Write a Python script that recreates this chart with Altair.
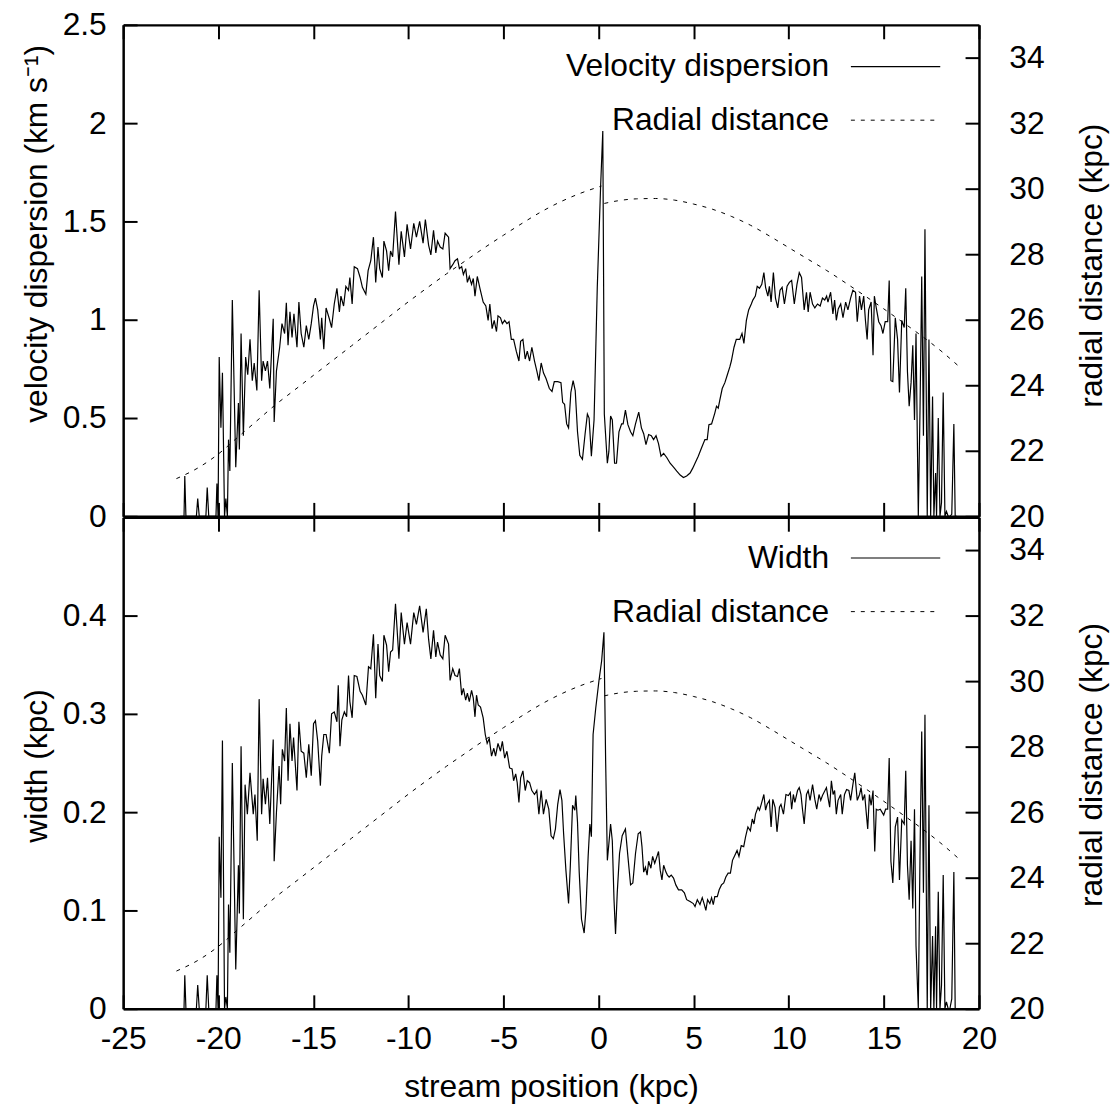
import altair as alt
import pandas as pd

# ---------------- data ----------------
vel_x = [-22.00, -21.80, -21.76, -21.70, -21.15, -21.08, -21.00, -20.65, -20.58, -20.50,
         -20.12, -20.07, -20.01, -19.95, -19.86, -19.78, -19.67, -19.60, -19.52, -19.46,
         -19.39, -19.26, -19.08, -18.94, -18.89, -18.80, -18.68, -18.56, -18.45, -18.33,
         -18.21, -18.11, -17.97, -17.85, -17.72, -17.64, -17.52, -17.41, -17.29, -17.11,
         -17.06, -16.94, -16.77, -16.65, -16.51, -16.42, -16.33, -16.23, -16.12, -16.02,
         -15.86, -15.76, -15.64, -15.50, -15.37, -15.24, -15.11, -14.99, -14.89, -14.77,
         -14.63, -14.56, -14.45, -14.33, -14.16, -14.04, -13.90, -13.76, -13.63, -13.55,
         -13.41, -13.29, -13.15, -13.08, -12.96, -12.85, -12.68, -12.54, -12.42, -12.24,
         -12.12, -11.98, -11.84, -11.72, -11.60, -11.51, -11.37, -11.29, -11.15, -11.04,
         -10.94, -10.83, -10.68, -10.50, -10.38, -10.21, -10.07, -9.89, -9.72, -9.58,
         -9.41, -9.23, -9.11, -8.94, -8.82, -8.68, -8.56, -8.47, -8.33, -8.19,
         -8.07, -7.89, -7.81, -7.67, -7.55, -7.42, -7.32, -7.20, -7.11, -6.99,
         -6.90, -6.80, -6.68, -6.59, -6.50, -6.38, -6.24, -6.07, -5.93, -5.81,
         -5.72, -5.60, -5.49, -5.37, -5.29, -5.16, -5.06, -4.94, -4.82, -4.71,
         -4.59, -4.47, -4.33, -4.19, -4.10, -3.98, -3.86, -3.75, -3.63, -3.51,
         -3.37, -3.25, -3.14, -3.02, -2.90, -2.76, -2.59, -2.45, -2.33, -2.15,
         -1.98, -1.89, -1.79, -1.68, -1.58, -1.46, -1.34, -1.23, -1.11, -0.99,
         -0.85, -0.71, -0.59, -0.50, -0.38, -0.24, -0.07, 0.11, 0.22, 0.30,
         0.46, 0.54, 0.63, 0.72, 0.84, 0.94, 1.07, 1.21, 1.29, 1.41,
         1.54, 1.68, 1.80, 1.94, 2.11, 2.25, 2.37, 2.49, 2.63, 2.77,
         2.89, 3.02, 3.15, 3.28, 3.42, 3.59, 3.76, 3.94, 4.11, 4.29,
         4.46, 4.63, 4.81, 4.95, 5.07, 5.24, 5.42, 5.59, 5.71, 5.80,
         5.94, 6.11, 6.20, 6.29, 6.37, 6.50, 6.64, 6.77, 6.90, 6.98,
         7.12, 7.24, 7.42, 7.54, 7.64, 7.77, 7.89, 8.03, 8.11, 8.24,
         8.34, 8.46, 8.58, 8.69, 8.78, 8.90, 8.98, 9.07, 9.19, 9.30,
         9.42, 9.54, 9.65, 9.77, 9.91, 10.03, 10.15, 10.29, 10.43, 10.55,
         10.67, 10.81, 10.93, 11.02, 11.12, 11.25, 11.37, 11.51, 11.65, 11.77,
         11.89, 11.99, 12.06, 12.20, 12.32, 12.41, 12.50, 12.60, 12.73, 12.85,
         12.99, 13.11, 13.25, 13.37, 13.51, 13.60, 13.72, 13.82, 13.94, 14.03,
         14.12, 14.20, 14.33, 14.43, 14.50, 14.60, 14.73, 14.85, 14.95, 15.07,
         15.20, 15.28, 15.37, 15.47, 15.60, 15.72, 15.82, 15.94, 16.07, 16.15,
         16.24, 16.33, 16.43, 16.52, 16.61, 16.69, 16.81, 16.90, 16.99, 17.08,
         17.16, 17.28, 17.37, 17.46, 17.56, 17.63, 17.72, 17.77, 17.86, 17.95,
         18.03, 18.12, 18.21, 18.29, 18.38, 18.47, 18.57, 18.68, 18.75, 18.85]
vel_v = [0, 0, 0.205, 0, 0, 0.09, 0, 0, 0.146, 0,
         0, 0.167, 0, 0.81, 0.45, 0.73, 0, 0.09, 0, 0.39,
         0.23, 1.10, 0.25, 0.576, 0.34, 0.93, 0.41, 0.81, 0.72, 0.90,
         0.69, 0.78, 0.64, 1.15, 0.69, 0.79, 0.74, 0.79, 0.65, 1.005,
         0.48, 0.74, 0.86, 0.98, 0.93, 1.086, 0.87, 1.04, 0.91, 1.03,
         0.86, 1.09, 0.93, 0.86, 0.97, 0.90, 0.98, 1.07, 1.11, 1.05,
         0.90, 1.01, 0.85, 1.06, 1.005, 0.96, 1.08, 1.16, 1.04, 1.12,
         1.07, 1.17, 1.15, 1.215, 1.08, 1.27, 1.26, 1.215, 1.165, 1.13,
         1.25, 1.30, 1.42, 1.19, 1.37, 1.26, 1.215, 1.40, 1.35, 1.25,
         1.35, 1.32, 1.55, 1.28, 1.45, 1.32, 1.485, 1.36, 1.49, 1.42,
         1.50, 1.39, 1.51, 1.38, 1.33, 1.455, 1.34, 1.40, 1.37, 1.36,
         1.44, 1.42, 1.26, 1.28, 1.30, 1.31, 1.26, 1.27, 1.23, 1.26,
         1.19, 1.22, 1.18, 1.21, 1.12, 1.22, 1.16, 1.09, 1.07, 0.997,
         1.08, 0.955, 0.997, 0.94, 1.02, 1.01, 0.98, 0.997, 0.98, 0.99,
         0.90, 0.90, 0.84, 0.79, 0.89, 0.90, 0.80, 0.84, 0.79, 0.86,
         0.79, 0.74, 0.69, 0.78, 0.73, 0.70, 0.65, 0.635, 0.685, 0.685,
         0.68, 0.58, 0.57, 0.47, 0.45, 0.63, 0.69, 0.64, 0.43, 0.31,
         0.29, 0.42, 0.52, 0.50, 0.306, 0.49, 1.165, 1.69, 1.96, 0.52,
         0.27, 0.33, 0.51, 0.49, 0.27, 0.27, 0.43, 0.47, 0.47, 0.54,
         0.466, 0.43, 0.41, 0.47, 0.53, 0.45, 0.42, 0.365, 0.416, 0.41,
         0.39, 0.41, 0.37, 0.306, 0.32, 0.298, 0.27, 0.25, 0.23, 0.21,
         0.197, 0.205, 0.22, 0.245, 0.27, 0.306, 0.35, 0.39, 0.39, 0.466,
         0.47, 0.525, 0.56, 0.55, 0.59, 0.65, 0.68, 0.72, 0.76, 0.79,
         0.86, 0.90, 0.90, 0.93, 0.88, 0.997, 1.05, 1.08, 1.10, 1.12,
         1.17, 1.16, 1.18, 1.24, 1.165, 1.12, 1.17, 1.09, 1.24, 1.11,
         1.06, 1.15, 1.165, 1.08, 1.17, 1.19, 1.20, 1.08, 1.18, 1.24,
         1.215, 1.05, 1.14, 1.04, 1.14, 1.08, 1.06, 1.08, 1.07, 1.11,
         1.10, 1.12, 1.09, 1.14, 1.03, 1.10, 0.997, 1.055, 1.08, 1.01,
         1.09, 1.05, 1.11, 1.15, 1.14, 0.99, 1.12, 1.05, 1.12, 0.997,
         0.90, 1.05, 1.09, 0.82, 1.12, 1.06, 0.99, 0.97, 0.93, 0.99,
         0.99, 1.20, 0.69, 0.685, 1.01, 0.90, 0.63, 0.997, 0.96, 1.16,
         0.735, 0.56, 0.68, 0.87, 0.49, 0.93, 0.0, 0.54, 1.22, 0.41,
         1.46, 0.0, 0.90, 0.0, 0.61, 0.0, 0.22, 0.0, 0.50, 0.0,
         0.07, 0.63, 0.0, 0.025, 0.0, 0.0, 0.01, 0.47, 0.0, 0.0]

wid_x = [-22.00, -21.80, -21.76, -21.70, -21.15, -21.08, -21.00, -20.65, -20.58, -20.50,
         -20.12, -20.07, -20.01, -19.95, -19.86, -19.78, -19.67, -19.60, -19.52, -19.46,
         -19.39, -19.26, -19.08, -18.94, -18.89, -18.80, -18.68, -18.59, -18.47, -18.33,
         -18.16, -18.07, -17.95, -17.85, -17.72, -17.64, -17.52, -17.41, -17.29, -17.11,
         -17.06, -16.94, -16.80, -16.72, -16.63, -16.51, -16.42, -16.33, -16.23, -16.12,
         -16.04, -15.86, -15.76, -15.64, -15.50, -15.37, -15.24, -15.11, -14.99, -14.89,
         -14.77, -14.63, -14.56, -14.45, -14.33, -14.16, -14.04, -13.90, -13.76, -13.69,
         -13.60, -13.50, -13.37, -13.25, -13.15, -13.08, -12.96, -12.85, -12.71, -12.54,
         -12.42, -12.24, -12.10, -11.98, -11.84, -11.72, -11.60, -11.51, -11.37, -11.29,
         -11.15, -11.04, -10.94, -10.83, -10.68, -10.50, -10.38, -10.21, -10.07, -9.89,
         -9.72, -9.58, -9.41, -9.23, -9.06, -8.94, -8.82, -8.68, -8.56, -8.47,
         -8.33, -8.19, -8.07, -7.89, -7.81, -7.67, -7.55, -7.42, -7.32, -7.20,
         -7.11, -6.99, -6.90, -6.80, -6.68, -6.59, -6.50, -6.42, -6.33, -6.21,
         -6.07, -5.96, -5.86, -5.75, -5.63, -5.51, -5.42, -5.29, -5.16, -5.06,
         -4.94, -4.82, -4.68, -4.55, -4.47, -4.36, -4.28, -4.19, -4.10, -3.98,
         -3.86, -3.75, -3.63, -3.51, -3.37, -3.25, -3.14, -3.02, -2.90, -2.76,
         -2.62, -2.50, -2.38, -2.27, -2.15, -2.03, -1.93, -1.84, -1.72, -1.58,
         -1.49, -1.37, -1.25, -1.20, -1.11, -1.02, -0.90, -0.76, -0.67, -0.55,
         -0.46, -0.38, -0.29, -0.15, 0.02, 0.16, 0.28, 0.37, 0.46, 0.54,
         0.63, 0.72, 0.81, 0.89, 0.98, 1.10, 1.24, 1.41, 1.54, 1.68,
         1.80, 1.94, 2.08, 2.20, 2.28, 2.37, 2.46, 2.55, 2.63, 2.75,
         2.84, 2.95, 3.07, 3.15, 3.24, 3.33, 3.42, 3.54, 3.62, 3.71,
         3.82, 3.94, 4.06, 4.20, 4.37, 4.51, 4.63, 4.81, 4.98, 5.07,
         5.19, 5.33, 5.45, 5.56, 5.64, 5.73, 5.85, 5.94, 6.03, 6.11,
         6.24, 6.34, 6.46, 6.58, 6.69, 6.81, 6.93, 7.04, 7.16, 7.28,
         7.38, 7.50, 7.63, 7.73, 7.85, 7.98, 8.08, 8.17, 8.25, 8.38,
         8.46, 8.55, 8.69, 8.78, 8.86, 8.98, 9.07, 9.16, 9.28, 9.38,
         9.51, 9.59, 9.72, 9.85, 9.98, 10.08, 10.15, 10.24, 10.32, 10.46,
         10.55, 10.64, 10.72, 10.81, 10.93, 11.02, 11.12, 11.25, 11.37, 11.47,
         11.59, 11.68, 11.77, 11.85, 11.98, 12.06, 12.15, 12.24, 12.33, 12.41,
         12.50, 12.59, 12.73, 12.81, 12.93, 13.04, 13.16, 13.25, 13.37, 13.47,
         13.60, 13.72, 13.80, 13.89, 13.99, 14.08, 14.15, 14.24, 14.33, 14.43,
         14.52, 14.60, 14.69, 14.81, 14.90, 14.99, 15.09, 15.20, 15.28, 15.37,
         15.47, 15.60, 15.72, 15.82, 15.94, 16.07, 16.15, 16.24, 16.33, 16.43,
         16.52, 16.61, 16.69, 16.81, 16.90, 16.99, 17.08, 17.16, 17.28, 17.37,
         17.46, 17.56, 17.63, 17.72, 17.77, 17.86, 17.95, 18.03, 18.12, 18.21,
         18.29, 18.38, 18.47, 18.57, 18.68, 18.75, 18.85]
wid_w = [0, 0, 0.034, 0, 0, 0.024, 0, 0, 0.034, 0,
         0, 0.034, 0, 0.175, 0.113, 0.273, 0, 0.012, 0, 0.106,
         0.057, 0.25, 0.04, 0.146, 0.097, 0.267, 0.091, 0.228, 0.198, 0.24,
         0.198, 0.218, 0.171, 0.315, 0.198, 0.234, 0.208, 0.235, 0.188, 0.274,
         0.15, 0.20, 0.247, 0.208, 0.264, 0.252, 0.306, 0.232, 0.29, 0.252,
         0.276, 0.222, 0.292, 0.262, 0.26, 0.235, 0.269, 0.237, 0.29, 0.293,
         0.272, 0.227, 0.257, 0.279, 0.279, 0.26, 0.30, 0.302, 0.292, 0.329,
         0.267, 0.294, 0.302, 0.297, 0.339, 0.3125, 0.296, 0.339, 0.338, 0.323,
         0.319, 0.309, 0.348, 0.346, 0.381, 0.316, 0.371, 0.339, 0.333, 0.380,
         0.37, 0.343, 0.363, 0.365, 0.412, 0.356, 0.403, 0.371, 0.393, 0.371,
         0.403, 0.391, 0.41, 0.383, 0.407, 0.376, 0.356, 0.385, 0.358, 0.373,
         0.36, 0.356, 0.38, 0.371, 0.334, 0.346, 0.339, 0.338, 0.346, 0.319,
         0.326, 0.314, 0.321, 0.3125, 0.324, 0.316, 0.297, 0.319, 0.309, 0.307,
         0.296, 0.279, 0.27, 0.275, 0.257, 0.265, 0.257, 0.27, 0.262, 0.272,
         0.255, 0.262, 0.245, 0.244, 0.232, 0.239, 0.23, 0.21, 0.235, 0.242,
         0.222, 0.232, 0.23, 0.222, 0.218, 0.222, 0.198, 0.222, 0.198, 0.213,
         0.203, 0.176, 0.173, 0.183, 0.208, 0.223, 0.212, 0.178, 0.141, 0.107,
         0.144, 0.207, 0.202, 0.217, 0.19, 0.139, 0.091, 0.077, 0.10, 0.155,
         0.188, 0.175, 0.279, 0.306, 0.334, 0.354, 0.383, 0.252, 0.151, 0.168,
         0.188, 0.171, 0.111, 0.076, 0.118, 0.158, 0.176, 0.183, 0.155, 0.126,
         0.128, 0.158, 0.178, 0.18, 0.165, 0.139, 0.144, 0.136, 0.15, 0.143,
         0.155, 0.148, 0.155, 0.16, 0.141, 0.131, 0.146, 0.139, 0.136, 0.134,
         0.136, 0.133, 0.126, 0.121, 0.121, 0.118, 0.111, 0.109, 0.107, 0.104,
         0.111, 0.106, 0.113, 0.106, 0.10, 0.111, 0.107, 0.113, 0.106, 0.114,
         0.114, 0.121, 0.126, 0.128, 0.134, 0.138, 0.138, 0.151, 0.156, 0.161,
         0.155, 0.166, 0.165, 0.175, 0.185, 0.181, 0.193, 0.188, 0.198, 0.205,
         0.202, 0.208, 0.218, 0.202, 0.208, 0.212, 0.185, 0.213, 0.205, 0.18,
         0.205, 0.208, 0.198, 0.218, 0.217, 0.22, 0.203, 0.218, 0.21, 0.222,
         0.225, 0.218, 0.203, 0.188, 0.218, 0.222, 0.212, 0.228, 0.213, 0.203,
         0.218, 0.212, 0.217, 0.22, 0.225, 0.215, 0.205, 0.232, 0.218, 0.222,
         0.198, 0.212, 0.218, 0.198, 0.218, 0.223, 0.222, 0.212, 0.228, 0.24,
         0.212, 0.218, 0.225, 0.212, 0.218, 0.198, 0.183, 0.218, 0.207, 0.222,
         0.16, 0.203, 0.202, 0.203, 0.20, 0.197, 0.203, 0.203, 0.255, 0.15,
         0.128, 0.185, 0.195, 0.131, 0.192, 0.188, 0.242, 0.146, 0.111, 0.171,
         0.102, 0.203, 0.064, 0.0, 0.156, 0.282, 0.118, 0.299, 0.0, 0.207,
         0.0, 0.074, 0.0, 0.084, 0.0, 0.119, 0.0, 0.024, 0.136, 0.0,
         0.007, 0.0, 0.0, 0.01, 0.139, 0.0, 0.0]

rad_left_x = [-22.2, -21.0, -20.0, -19.0, -18.0, -17.0, -16.0, -15.0, -14.0, -13.0, -12.0,
              -11.0, -10.0, -9.0, -8.0, -7.0, -6.0, -5.0, -4.0, -3.0, -2.0, -1.0, 0.15]
rad_left_r = [21.15, 21.5, 21.9, 22.4, 22.9, 23.4, 23.85, 24.3, 24.75, 25.2, 25.65,
              26.1, 26.55, 26.98, 27.4, 27.8, 28.2, 28.58, 28.95, 29.3, 29.6, 29.85, 30.08]
rad_right_x = [0.3, 1.0, 2.0, 3.0, 4.0, 5.0, 6.0, 7.0, 8.0, 9.0, 10.0,
               11.0, 12.0, 13.0, 14.0, 15.0, 16.0, 17.0, 18.0, 18.9]
rad_right_r = [29.55, 29.63, 29.69, 29.7, 29.65, 29.53, 29.37, 29.15, 28.88, 28.55, 28.2,
               27.85, 27.5, 27.12, 26.73, 26.33, 25.92, 25.5, 25.05, 24.6]

x_ticks = [-25, -20, -15, -10, -5, 0, 5, 10, 15, 20]
vel_ticks = [0, 0.5, 1, 1.5, 2, 2.5]
wid_ticks = [0, 0.1, 0.2, 0.3, 0.4]
rad_ticks = [20, 22, 24, 26, 28, 30, 32, 34]

top_legend = ["Velocity dispersion", "Radial distance"]
bot_legend = ["Width", "Radial distance"]

# ---------------- layout / style ----------------
FONT = "Liberation Sans"
FS = 32
W = 862
H = 991
TOP_BOTTOM = 495   # pixel y of the top panel's lower edge
BOT_TOP = 496      # pixel y of the bottom panel's upper edge

vel_df = pd.DataFrame({"x": vel_x, "v": vel_v})
wid_df = pd.DataFrame({"x": wid_x, "w": wid_w})
rad_df = pd.DataFrame({
    "x": rad_left_x + rad_right_x,
    "r": rad_left_r + rad_right_r,
    "seg": ["a"] * len(rad_left_x) + ["b"] * len(rad_right_x),
})

xscale = alt.Scale(domain=[-25, 20], nice=False, zero=False)

common = dict(
    tickSize={"expr": "-14"}, tickWidth=2, tickColor="black",
    domain=True, domainColor="black", domainWidth=2.5, grid=False,
    labelFont=FONT, labelFontSize=FS, labelColor="black",
    labelExpr="'' + datum.value", labelFlush=False, labelOverlap=False,
)

def xaxis(orient, offset, labels=False, title=None, **kw):
    args = dict(common)
    args.update(kw)
    if title is None:
        return alt.Axis(orient=orient, offset=offset, values=x_ticks, labels=labels,
                        title=None, **args)
    return alt.Axis(orient=orient, offset=offset, values=x_ticks, labels=labels,
                    title=title, **args)

top_v = alt.Chart(vel_df).mark_line(color="black", strokeWidth=1.2).encode(
    x=alt.X("x:Q", scale=xscale, axis=xaxis("top", 0)),
    y=alt.Y("v:Q",
            scale=alt.Scale(domain=[0, 2.5], range=[TOP_BOTTOM, 0], nice=False, zero=False),
            axis=alt.Axis(orient="left", values=vel_ticks, labelPadding=31,
                          title="velocity dispersion (km s\u207b\u00b9)",
                          titleX=-87, titleY=210, titleAngle=270,
                          titleAlign="center", titleBaseline="middle", **common)),
)

top_r = alt.Chart(rad_df).mark_line(color="black", strokeWidth=1, strokeDash=[4, 6],
                                     interpolate="monotone").encode(
    x=alt.X("x:Q", scale=xscale, axis=xaxis("bottom", -(H - TOP_BOTTOM))),
    y=alt.Y("r:Q",
            scale=alt.Scale(domain=[20, 35], range=[TOP_BOTTOM, 0], nice=False, zero=False),
            axis=alt.Axis(orient="right", values=rad_ticks, labelPadding=44,
                          title="radial distance (kpc)",
                          titleX=113, titleY=242, titleAngle=270,
                          titleAlign="center", titleBaseline="middle", **common)),
    detail="seg:N",
)

bot_w = alt.Chart(wid_df).mark_line(color="black", strokeWidth=1.2).encode(
    x=alt.X("x:Q", scale=xscale, axis=xaxis("top", -BOT_TOP)),
    y=alt.Y("w:Q",
            scale=alt.Scale(domain=[0, 0.5], range=[H, BOT_TOP], nice=False, zero=False),
            axis=alt.Axis(orient="left", values=wid_ticks, labelPadding=31,
                          title="width (kpc)",
                          titleX=-87, titleY=746, titleAngle=270,
                          titleAlign="center", titleBaseline="middle", **common)),
)

bot_r = alt.Chart(rad_df).mark_line(color="black", strokeWidth=1, strokeDash=[4, 6],
                                     interpolate="monotone").encode(
    x=alt.X("x:Q", scale=xscale,
            axis=xaxis("bottom", 0, labels=True, title="stream position (kpc)",
                       labelPadding=44, labelBaseline="middle",
                       titleX=431, titleY=78, titleBaseline="middle", titleAlign="center")),
    y=alt.Y("r:Q",
            scale=alt.Scale(domain=[20, 35], range=[H, BOT_TOP], nice=False, zero=False),
            axis=alt.Axis(orient="right", values=rad_ticks, labelPadding=44,
                          title="radial distance (kpc)",
                          titleX=113, titleY=745, titleAngle=270,
                          titleAlign="center", titleBaseline="middle", **common)),
    detail="seg:N",
)

# ---------------- key (legend) ----------------
def key_text(label, ypix):
    return alt.Chart(pd.DataFrame({"t": [label]})).mark_text(
        font=FONT, fontSize=FS, align="right", baseline="middle", color="black"
    ).encode(x=alt.value(711), y=alt.value(ypix), text="t:N")

def key_line(ypix, dashed):
    kw = dict(color="black", strokeWidth=1)
    if dashed:
        kw["strokeDash"] = [4, 6]
    else:
        kw["strokeWidth"] = 1.2
    return alt.Chart(pd.DataFrame({"k": [0]})).mark_rule(**kw).encode(
        x=alt.value(733), x2=alt.value(823), y=alt.value(ypix))

legend_layers = [
    key_text(top_legend[0], 42), key_line(42, False),
    key_text(top_legend[1], 96), key_line(96, True),
    key_text(bot_legend[0], 537), key_line(537, False),
    key_text(bot_legend[1], 591), key_line(591, True),
]

chart = alt.layer(top_v, top_r, bot_w, bot_r, *legend_layers).resolve_scale(
    y="independent"
).resolve_axis(
    x="independent", y="independent"
).properties(
    width=W, height=H,
    autosize=alt.AutoSizeParams(type="none"),
    padding={"left": 116, "top": 13, "right": 134, "bottom": 98},
).configure_view(
    stroke=None
).configure_axis(
    titleFont=FONT, titleFontSize=FS, titleFontWeight="normal", titleColor="black"
)

chart.save("out.html", embed_options={"renderer": "svg", "actions": False})
